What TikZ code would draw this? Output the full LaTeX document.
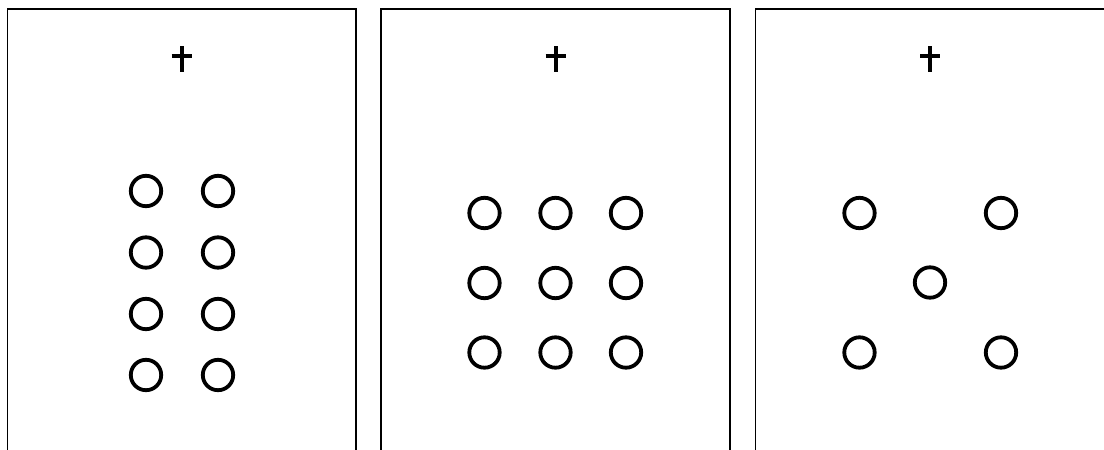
\documentclass[tikz,border=0pt]{standalone}
\begin{document}
\begin{tikzpicture}[x=1pt,y=-1pt,
  panel/.style={draw=black,line width=1.4pt},
  ring/.style={circle,draw=black,line width=3.8pt,minimum size=30.4pt,inner sep=0pt},
  crossbar/.style={draw=black,line width=4pt}]
\useasboundingbox (0,0) rectangle (1104,450);
\clip (0,0) rectangle (1104,450);
\fill[white] (0,0) rectangle (1104,450);
% panels (open at the bottom, cut by the page edge)
\draw[panel] (7.5,460) -- (7.5,9) -- (356,9) -- (356,460);
\draw[panel] (381,460) -- (381,9) -- (730,9) -- (730,460);
\draw[panel] (755.5,460) -- (755.5,9) -- (1107,9) -- (1107,460);
% fixation crosses
\foreach \cx/\nm in {181.5/fA,555.5/fB,930/fC}{
  \coordinate (\nm) at (\cx,59);
  \draw[crossbar] (\cx,46) -- (\cx,72);
  \draw[crossbar] (\cx-10,56) -- (\cx+10,56);
}
% panel 1: 2 x 4
\foreach \r/\y in {1/191,2/252.5,3/314,4/375}{
  \node[ring] (a\r l) at (146,\y) {};
  \node[ring] (a\r r) at (218,\y) {};
}
% panel 2: 3 x 3
\foreach \r/\y in {1/213,2/283,3/352.5}{
  \foreach \c/\x in {1/484.5,2/555.5,3/626}{
    \node[ring] (b\r\c) at (\x,\y) {};
  }
}
% panel 3: quincunx
\node[ring] (c11) at (859.5,213) {};
\node[ring] (c13) at (1001,213) {};
\node[ring] (c22) at (930,282.5) {};
\node[ring] (c31) at (859.5,352.5) {};
\node[ring] (c33) at (1001,352.5) {};
\end{tikzpicture}
\end{document}
